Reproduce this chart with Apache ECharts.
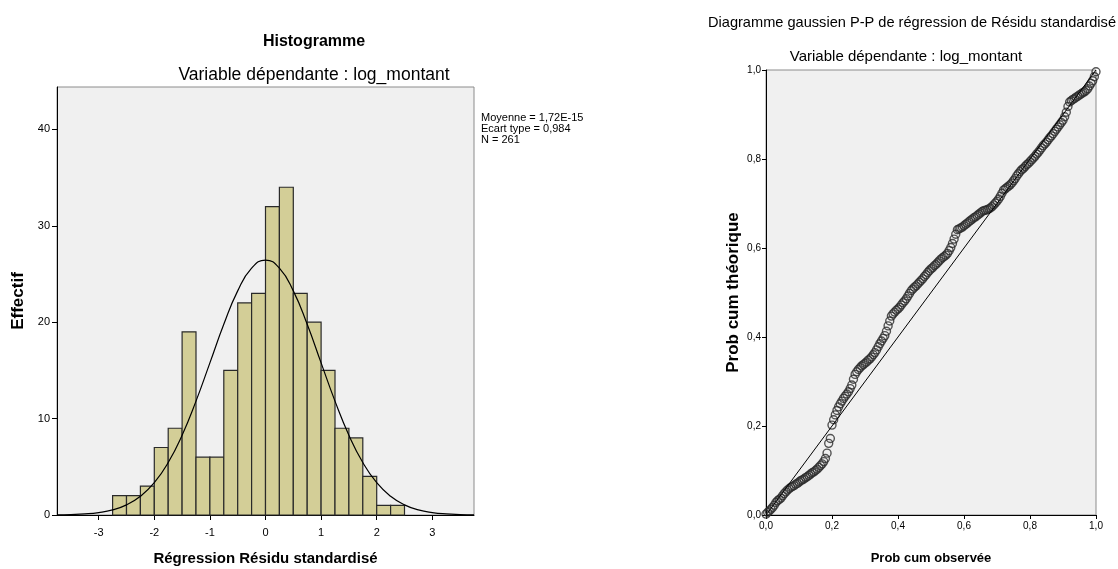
<!DOCTYPE html>
<html>
<head>
<meta charset="utf-8">
<script src="https://cdn.jsdelivr.net/npm/echarts@6/dist/echarts.min.js"></script>
<style>
  html, body { margin: 0; padding: 0; background: #fff; }
  #main { width: 1118px; height: 569px; }
</style>
</head>
<body>
<div id="main"></div>
<script>
// histogramme : classes de largeur 0,25
const binStarts = [-2.75, -2.5, -2.25, -2, -1.75, -1.5, -1.25, -1, -0.75, -0.5, -0.25,
  0, 0.25, 0.5, 0.75, 1, 1.25, 1.5, 1.75, 2, 2.25]
const binWidth = 0.25
const binCounts = [2, 2, 3, 7, 9, 19, 6, 6, 15, 22, 23, 32, 34, 23, 20, 15, 9, 8, 4, 1, 1]

// courbe normale
const curveX = [-3.75, -3.5, -3.25, -3, -2.75, -2.5, -2.25, -2, -1.75, -1.5, -1.25, -1, -0.75, -0.5, -0.25,
  0, 0.25, 0.5, 0.75, 1, 1.25, 1.5, 1.75, 2, 2.25, 2.5, 2.75, 3, 3.25, 3.5, 3.75]
const curveY = [0.02, 0.05, 0.11, 0.25, 0.53, 1.05, 1.94, 3.35, 5.44, 8.28, 11.81, 15.78, 19.78, 23.25, 25.61,
  26.45, 25.61, 23.25, 19.78, 15.78, 11.81, 8.28, 5.44, 3.35, 1.94, 1.05, 0.53, 0.25, 0.11, 0.05, 0.02]

const histXTicks = [-3, -2, -1, 0, 1, 2, 3]
const histYTicks = [0, 10, 20, 30, 40]
const statLines = ['Moyenne = 1,72E-15', 'Ecart type = 0,984', 'N = 261']

// diagramme P-P : prob cum observée
const ppObs = [0, 0.005, 0.01, 0.015, 0.02, 0.025, 0.03, 0.035, 0.04, 0.045, 0.05, 0.055, 0.06, 0.065,
  0.07, 0.075, 0.08, 0.085, 0.09, 0.095, 0.1, 0.105, 0.11, 0.115, 0.12, 0.125, 0.13, 0.135, 0.14, 0.145,
  0.15, 0.155, 0.16, 0.165, 0.17, 0.175, 0.18, 0.185, 0.19, 0.195, 0.2, 0.205, 0.21, 0.215, 0.22, 0.225,
  0.23, 0.235, 0.24, 0.245, 0.25, 0.255, 0.26, 0.265, 0.27, 0.275, 0.28, 0.285, 0.29, 0.295, 0.3, 0.305,
  0.31, 0.315, 0.32, 0.325, 0.33, 0.335, 0.34, 0.345, 0.35, 0.355, 0.36, 0.365, 0.37, 0.375, 0.38, 0.385,
  0.39, 0.395, 0.4, 0.405, 0.41, 0.415, 0.42, 0.425, 0.43, 0.435, 0.44, 0.445, 0.45, 0.455, 0.46, 0.465,
  0.47, 0.475, 0.48, 0.485, 0.49, 0.495, 0.5, 0.505, 0.51, 0.515, 0.52, 0.525, 0.53, 0.535, 0.54, 0.545,
  0.55, 0.555, 0.56, 0.565, 0.57, 0.575, 0.58, 0.585, 0.59, 0.595, 0.6, 0.605, 0.61, 0.615, 0.62, 0.625,
  0.63, 0.635, 0.64, 0.645, 0.65, 0.655, 0.66, 0.665, 0.67, 0.675, 0.68, 0.685, 0.69, 0.695, 0.7, 0.705,
  0.71, 0.715, 0.72, 0.725, 0.73, 0.735, 0.74, 0.745, 0.75, 0.755, 0.76, 0.765, 0.77, 0.775, 0.78, 0.785,
  0.79, 0.795, 0.8, 0.805, 0.81, 0.815, 0.82, 0.825, 0.83, 0.835, 0.84, 0.845, 0.85, 0.855, 0.86, 0.865,
  0.87, 0.875, 0.88, 0.885, 0.89, 0.895, 0.9, 0.905, 0.91, 0.915, 0.92, 0.925, 0.93, 0.935, 0.94, 0.945,
  0.95, 0.955, 0.96, 0.965, 0.97, 0.975, 0.98, 0.985, 0.99, 0.995, 1]
// prob cum théorique
const ppTheo = [0.002, 0.006, 0.009, 0.013, 0.017, 0.022, 0.028, 0.032, 0.035, 0.038, 0.043, 0.048, 0.052,
  0.056, 0.059, 0.062, 0.064, 0.066, 0.069, 0.071, 0.074, 0.077, 0.079, 0.081, 0.084, 0.086, 0.089, 0.092,
  0.095, 0.097, 0.1, 0.103, 0.107, 0.111, 0.115, 0.12, 0.127, 0.139, 0.161, 0.172, 0.202, 0.214, 0.225,
  0.235, 0.243, 0.25, 0.256, 0.262, 0.267, 0.272, 0.277, 0.284, 0.292, 0.305, 0.316, 0.322, 0.327, 0.331,
  0.335, 0.338, 0.341, 0.344, 0.348, 0.351, 0.355, 0.36, 0.365, 0.371, 0.378, 0.385, 0.391, 0.397, 0.403,
  0.413, 0.425, 0.436, 0.447, 0.452, 0.456, 0.46, 0.463, 0.467, 0.472, 0.477, 0.481, 0.486, 0.492, 0.498,
  0.504, 0.508, 0.512, 0.515, 0.519, 0.523, 0.527, 0.531, 0.536, 0.54, 0.545, 0.549, 0.553, 0.556, 0.56,
  0.563, 0.567, 0.571, 0.575, 0.578, 0.581, 0.584, 0.588, 0.594, 0.601, 0.61, 0.62, 0.631, 0.641, 0.643,
  0.645, 0.647, 0.65, 0.653, 0.656, 0.659, 0.662, 0.665, 0.668, 0.67, 0.673, 0.676, 0.679, 0.682, 0.684,
  0.685, 0.686, 0.688, 0.69, 0.693, 0.697, 0.701, 0.705, 0.71, 0.716, 0.723, 0.73, 0.733, 0.736, 0.739,
  0.742, 0.746, 0.751, 0.756, 0.762, 0.767, 0.772, 0.776, 0.779, 0.783, 0.787, 0.79, 0.794, 0.798, 0.802,
  0.806, 0.811, 0.815, 0.82, 0.825, 0.83, 0.834, 0.838, 0.843, 0.848, 0.852, 0.857, 0.862, 0.867, 0.872,
  0.877, 0.882, 0.887, 0.895, 0.905, 0.918, 0.928, 0.931, 0.934, 0.936, 0.939, 0.941, 0.944, 0.946, 0.949,
  0.951, 0.954, 0.958, 0.964, 0.97, 0.976, 0.985, 0.996]
const refX = [0, 1]
const refY = [0, 1]

const font = 'Liberation Sans, Arial, sans-serif'
const comma = v => v.toFixed(1).replace('.', ',')

let myChart = echarts.init(document.getElementById('main'))
let option = {
  animation: false,
  textStyle: { fontFamily: font, color: '#000' },
  title: [
    { text: 'Histogramme', left: 309, top: 29, textAlign: 'center',
      textStyle: { fontSize: 16, fontWeight: 'bold', color: '#000' } },
    { text: 'Variable dépendante : log_montant', left: 309, top: 61, textAlign: 'center',
      textStyle: { fontSize: 17.5, fontWeight: 'normal', color: '#000' } },
    { text: 'Diagramme gaussien P-P de régression de Résidu standardisé', left: 703, top: 10,
      textStyle: { fontSize: 14.6, fontWeight: 'normal', color: '#000' } },
    { text: 'Variable dépendante : log_montant', left: 901, top: 44, textAlign: 'center',
      textStyle: { fontSize: 15, fontWeight: 'normal', color: '#000' } }
  ],
  graphic: [{
    type: 'text', left: 481, top: 112,
    style: { text: statLines.join('\n'), font: '11px ' + font, lineHeight: 11, fill: '#000' }
  }],
  grid: [
    { left: 57, top: 87, width: 417, height: 428, show: true, backgroundColor: '#F0F0F0',
      borderColor: '#8c8c8c', borderWidth: 1, outerBoundsMode: 'none' },
    { left: 766, top: 70, width: 330, height: 445, show: true, backgroundColor: '#F0F0F0',
      borderColor: '#8c8c8c', borderWidth: 1, outerBoundsMode: 'none' }
  ],
  xAxis: [
    { type: 'value', gridIndex: 0, min: -3.75, max: 3.75,
      name: 'Régression Résidu standardisé', nameLocation: 'middle', nameGap: 36,
      nameTextStyle: { fontSize: 15, fontWeight: 'bold', color: '#000' },
      axisLine: { onZero: false, lineStyle: { color: '#000' } },
      axisTick: { customValues: histXTicks, length: 5, lineStyle: { color: '#000' } },
      axisLabel: { customValues: histXTicks, fontSize: 11, color: '#000', margin: 12 },
      splitLine: { show: false } },
    { type: 'value', gridIndex: 1, min: 0, max: 1, interval: 0.2,
      name: 'Prob cum observée', nameLocation: 'middle', nameGap: 37,
      nameTextStyle: { fontSize: 13, fontWeight: 'bold', color: '#000' },
      axisLine: { onZero: false, lineStyle: { color: '#000' } },
      axisTick: { length: 4, lineStyle: { color: '#000' } },
      axisLabel: { fontSize: 10, color: '#000', margin: 6, formatter: comma },
      splitLine: { show: false } }
  ],
  yAxis: [
    { type: 'value', gridIndex: 0, min: 0, max: 44.4,
      name: 'Effectif', nameLocation: 'middle', nameGap: 30, nameRotate: 90,
      nameTextStyle: { fontSize: 17, fontWeight: 'bold', color: '#000' },
      axisLine: { show: true, onZero: false, lineStyle: { color: '#000' } },
      axisTick: { show: true, customValues: histYTicks, length: 5, lineStyle: { color: '#000' } },
      axisLabel: { customValues: histYTicks, fontSize: 11, color: '#000', margin: 7 },
      splitLine: { show: false } },
    { type: 'value', gridIndex: 1, min: 0, max: 1, interval: 0.2,
      name: 'Prob cum théorique', nameLocation: 'middle', nameGap: 24, nameRotate: 90,
      nameTextStyle: { fontSize: 17, fontWeight: 'bold', color: '#000' },
      axisLine: { show: true, onZero: false, lineStyle: { color: '#000' } },
      axisTick: { show: true, length: 4, lineStyle: { color: '#000' } },
      axisLabel: { fontSize: 10, color: '#000', margin: 5, formatter: comma },
      splitLine: { show: false } }
  ],
  series: [
    {
      type: 'custom', xAxisIndex: 0, yAxisIndex: 0,
      data: binStarts.map((s, i) => [s, s + binWidth, binCounts[i]]),
      renderItem: function (params, api) {
        let p0 = api.coord([api.value(0), api.value(2)])
        let p1 = api.coord([api.value(1), 0])
        return {
          type: 'rect',
          shape: { x: p0[0], y: p0[1], width: p1[0] - p0[0], height: p1[1] - p0[1] },
          style: { fill: '#D3CE97', stroke: '#2a2a2a', lineWidth: 1.2 }
        }
      }
    },
    {
      type: 'line', xAxisIndex: 0, yAxisIndex: 0, smooth: true, symbol: 'none',
      lineStyle: { color: '#000', width: 1.2 },
      data: curveX.map((x, i) => [x, curveY[i]]), z: 3
    },
    {
      type: 'line', xAxisIndex: 1, yAxisIndex: 1, symbol: 'none',
      lineStyle: { color: '#000', width: 1 },
      data: refX.map((x, i) => [x, refY[i]])
    },
    {
      type: 'scatter', xAxisIndex: 1, yAxisIndex: 1, symbol: 'circle', symbolSize: 8,
      itemStyle: { color: 'rgba(0,0,0,0)', borderColor: '#2a2a2a', borderWidth: 1.4 },
      data: ppObs.map((x, i) => [x, ppTheo[i]])
    }
  ]
}
myChart.setOption(option)
</script>
</body>
</html>
